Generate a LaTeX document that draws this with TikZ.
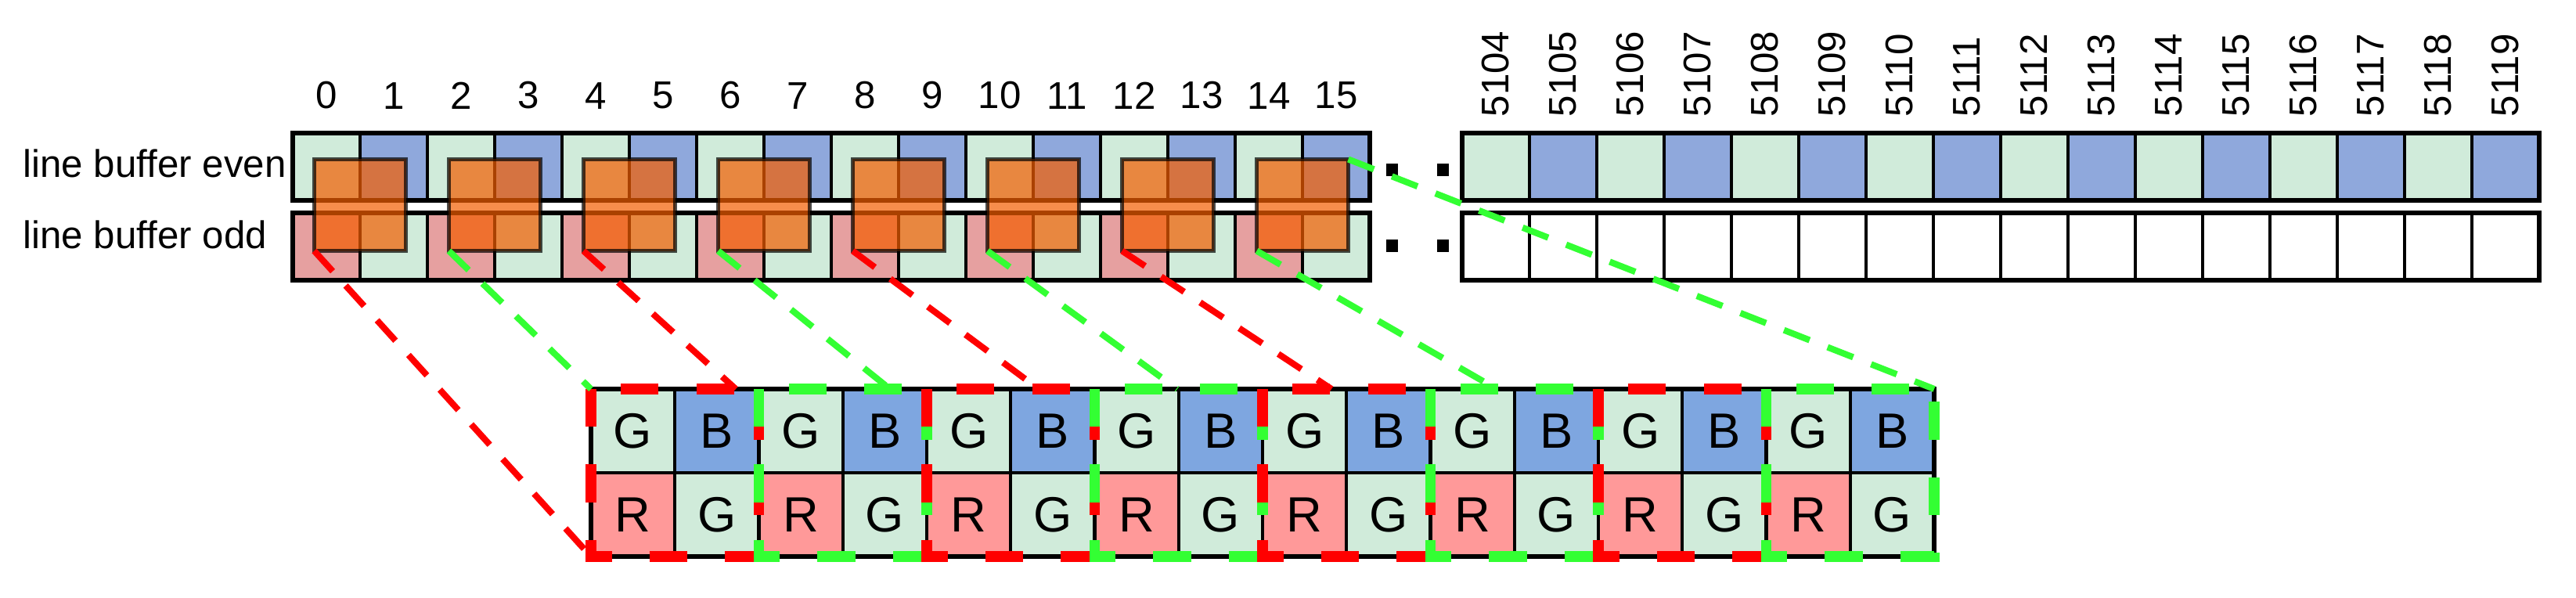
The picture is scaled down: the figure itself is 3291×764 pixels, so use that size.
\documentclass[tikz,border=0pt]{standalone}
\usepackage{fontspec}
\setmainfont{Liberation Sans}
\usetikzlibrary{positioning}

\definecolor{cellgreen}{RGB}{208,235,218}
\definecolor{cellblue}{RGB}{143,168,220}
\definecolor{cellpink}{RGB}{230,160,160}
\definecolor{bayerblue}{RGB}{126,166,224}
\definecolor{bayerred}{RGB}{255,153,153}
\definecolor{winorange}{RGB}{243,93,0}
\definecolor{linkred}{RGB}{255,0,0}
\definecolor{linkgreen}{RGB}{51,255,51}

\begin{document}
\begin{tikzpicture}[x=0.01cm, y=-0.01cm,
  cell/.style={draw=black, line width=1.2pt, minimum width=0.86cm, minimum height=0.86cm, inner sep=0pt, outer sep=0pt},
  pixel/.style={draw=black, line width=1.2pt, minimum width=1.0725cm, minimum height=1.07cm, inner sep=0pt, outer sep=0pt, font=\fontsize{18}{20}\selectfont},
  window/.style={fill=winorange, fill opacity=0.7, draw=black, draw opacity=0.7, line width=1.3pt, minimum size=1.17cm, inner sep=0pt, outer sep=0pt},
  idx/.style={font=\fontsize{14}{16}\selectfont, inner sep=0pt},
  link/.style={line width=2.3pt, dash pattern=on 10pt off 7pt},
  group/.style={line width=3.9pt, dash pattern=on 13.7pt off 13.7pt},
  ellip/.style={fill=black, minimum width=0.15cm, minimum height=0.15cm, inner sep=0pt}]

  \useasboundingbox (0,0) rectangle (3291,764);

  % line buffers, first pixels
  \foreach \k in {0,...,7} {
    \pgfmathtruncatemacro{\i}{2*\k}
    \pgfmathtruncatemacro{\j}{2*\k+1}
    \node[cell, fill=cellgreen] (e\i) at ({417+86*\i},213) {};
    \node[cell, fill=cellblue] (e\j) at ({417+86*\j},213) {};
    \node[cell, fill=cellpink] (o\i) at ({417+86*\i},315) {};
    \node[cell, fill=cellgreen] (o\j) at ({417+86*\j},315) {};
    \node[idx, above=0.3cm of e\i] (l\i) {\i};
    \node[idx, above=0.3cm of e\j] (l\j) {\j};
  }
  \draw[line width=1.6pt] (e0.north west) rectangle (e15.south east);
  \draw[line width=1.6pt] (o0.north west) rectangle (o15.south east);

  % line buffers, last pixels
  \foreach \i in {0,...,15} {
    \pgfmathtruncatemacro{\n}{5104+\i}
    \ifodd\i
      \node[cell, fill=cellblue] (re\i) at ({1911+86*\i},213) {};
    \else
      \node[cell, fill=cellgreen] (re\i) at ({1911+86*\i},213) {};
    \fi
    \node[cell, fill=white] (ro\i) at ({1911+86*\i},315) {};
    \node[idx, rotate=90, anchor=west] (n\n) at ({1911+86*\i},150) {\n};
  }
  \draw[line width=1.6pt] (re0.north west) rectangle (re15.south east);
  \draw[line width=1.6pt] (ro0.north west) rectangle (ro15.south east);

  \node[idx, anchor=base west] (even) at (29,227) {line buffer even};
  \node[idx, anchor=base west] (odd) at (29,318) {line buffer odd};

  \node[ellip] (dotea) at (1778,217) {};
  \node[ellip] (doteb) at (1843,217) {};
  \node[ellip] (dotoa) at (1778,314) {};
  \node[ellip] (dotob) at (1843,314) {};

  % 2x2 windows
  \foreach \k in {0,...,7}
    \node[window] (w\k) at ({460+172*\k},262) {};

  % bayer block
  \foreach \k in {0,...,7} {
    \pgfmathtruncatemacro{\i}{2*\k}
    \pgfmathtruncatemacro{\j}{2*\k+1}
    \node[pixel, fill=cellgreen] (gt\i) at ({808.6+107.25*\i},550.5) {G};
    \node[pixel, fill=bayerblue] (gt\j) at ({808.6+107.25*\j},550.5) {B};
    \node[pixel, fill=bayerred] (gb\i) at ({808.6+107.25*\i},657.5) {R};
    \node[pixel, fill=cellgreen] (gb\j) at ({808.6+107.25*\j},657.5) {G};
  }
  \draw[line width=1.6pt] (gt0.north west) rectangle (gb15.south east);
  \foreach \k/\col in {0/linkred,1/linkgreen,2/linkred,3/linkgreen,4/linkred,5/linkgreen,6/linkred,7/linkgreen} {
    \pgfmathtruncatemacro{\i}{2*\k}
    \pgfmathtruncatemacro{\j}{2*\k+1}
    \draw[group, draw=\col] (gt\i.north west) rectangle (gb\j.south east);
  }

  % links
  \draw[link, draw=linkred] (w0.south west) -- (gb0.south west);
  \foreach \k/\x/\col in {1/755/linkgreen,2/940/linkred,3/1137/linkgreen,4/1327/linkred,5/1504/linkgreen,6/1701/linkred,7/1912/linkgreen} {
    \coordinate (end\k) at (\x,497);
    \draw[link, draw=\col] (w\k.south west) -- (end\k);
  }
  \draw[link, draw=linkgreen] (w7.north east) -- (gt15.north east);
\end{tikzpicture}
\end{document}
